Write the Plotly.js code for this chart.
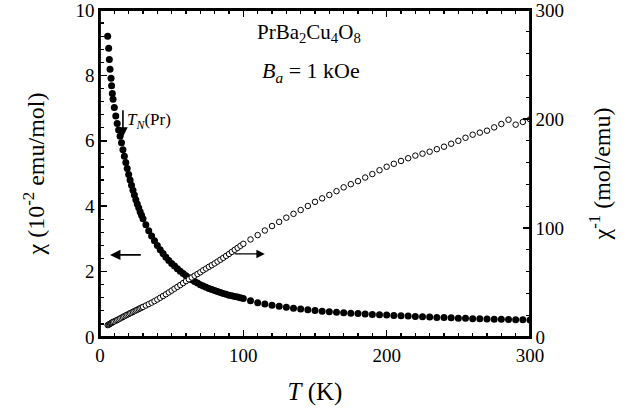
<!DOCTYPE html>
<html>
<head>
<meta charset="utf-8">
<script src="https://cdn.plot.ly/plotly-3.0.1.min.js"></script>
<style>
  html, body { margin: 0; padding: 0; background: #fff; }
  #chart { width: 639px; height: 411px; }
</style>
</head>
<body>
<div id="chart"></div>
<script>
// temperature (K)
const temps = [
  5.35, 6.05, 6.5, 7.0, 7.7, 8.1, 8.6, 9.1,
  10, 11, 12, 13, 14, 15, 16, 17, 18, 19, 20, 21, 22, 23, 24, 25, 26, 27, 28, 29, 30,
  32, 34, 36, 38, 40, 42, 44, 46, 48, 50, 52, 54, 56, 58, 60, 62, 64, 66, 68, 70,
  72, 74, 76, 78, 80, 82, 84, 86, 88, 90, 92, 94, 96, 98,
  100, 105, 110, 115, 120, 125, 130, 135, 140, 145, 150, 155, 160, 165, 170, 175,
  180, 185, 190, 195, 200, 205, 210, 215, 220, 225, 230, 235, 240, 245, 250, 255,
  260, 265, 270, 275, 280, 285, 290, 295, 300
];

// chi (10^-2 emu/mol), left axis
const chi = [
  9.20, 8.83, 8.49, 8.19, 7.91, 7.68, 7.45, 7.27,
  7.02, 6.76, 6.53, 6.33, 6.14, 5.94, 5.73, 5.53, 5.34, 5.15, 4.97, 4.80, 4.64, 4.49, 4.34, 4.20, 4.07, 3.95, 3.83, 3.72, 3.62,
  3.43, 3.25, 3.09, 2.94, 2.80, 2.67, 2.55, 2.44, 2.34, 2.25, 2.17, 2.09, 2.01, 1.94, 1.87, 1.81, 1.75, 1.70, 1.65, 1.60,
  1.56, 1.52, 1.48, 1.45, 1.42, 1.39, 1.36, 1.33, 1.31, 1.28, 1.26, 1.24, 1.22, 1.20,
  1.18, 1.11, 1.05, 1.01, 0.97, 0.94, 0.91, 0.88, 0.86, 0.83, 0.81, 0.79, 0.77, 0.755, 0.74, 0.725,
  0.715, 0.70, 0.69, 0.68, 0.67, 0.66, 0.65, 0.64, 0.63, 0.62, 0.61, 0.60, 0.595, 0.585, 0.575, 0.57,
  0.56, 0.555, 0.55, 0.545, 0.54, 0.535, 0.53, 0.525, 0.52
];

// inverse chi (mol/emu), right axis
const chiInv = [
  10.9, 11.3, 11.7, 12.1, 12.6, 13.0, 13.4, 13.8,
  14.3, 15.0, 15.6, 16.3, 17.0, 17.7, 18.4, 19.1, 19.8, 20.4, 21.1, 21.8, 22.4, 23.1, 23.7, 24.4, 25.0, 25.7, 26.3, 27.0, 27.6,
  28.9, 30.2, 31.5, 32.9, 34.4, 36.0, 37.6, 39.2, 40.9, 42.6, 44.3, 46.0, 47.7, 49.5, 51.3, 53.0, 54.6, 56.2, 57.8, 59.4,
  61.2, 62.8, 64.4, 65.9, 67.5, 69.2, 70.9, 72.6, 74.4, 76.2, 78.1, 80.0, 81.8, 83.7,
  85.5, 89.5, 93.5, 97.7, 101.8, 105.6, 109.5, 113, 116.5, 120.2, 124, 127.2, 130.3, 133.8, 137.3, 140.2,
  143, 146.3, 149.5, 153, 156.2, 158.9, 161.5, 164, 166.4, 168.2, 170, 172.3, 174.6, 177.3, 180, 182.8,
  185.6, 187.5, 189.3, 192.3, 195.4, 199.3, 194.8, 197.3, 199.7
];

const serif = 'Liberation Serif, Times New Roman, serif';

var chiTrace = {
  x: temps,
  y: chi,
  type: 'scatter',
  mode: 'markers',
  marker: { symbol: 'circle', size: 7, color: '#000' },
  hoverinfo: 'skip'
};

var chiInvTrace = {
  x: temps,
  y: chiInv,
  xaxis: 'x2',
  yaxis: 'y2',
  type: 'scatter',
  mode: 'markers',
  marker: { symbol: 'circle', size: 5.5, color: '#fff', line: { color: '#000', width: 1 } },
  hoverinfo: 'skip'
};

var axisBase = {
  showline: true,
  linecolor: '#000',
  linewidth: 1.8,
  ticks: 'inside',
  ticklen: 7,
  tickwidth: 1.5,
  tickcolor: '#000',
  showgrid: false,
  zeroline: false,
  ticklabeloverflow: 'allow',
  tickfont: { family: serif, size: 19, color: '#000' }
};

var minorTicks = function(step) {
  return { dtick: step, ticks: 'inside', ticklen: 4, tickcolor: '#000', tickwidth: 1.2 };
};

var layout = {
  width: 639,
  height: 411,
  margin: { l: 100, r: 109, t: 10, b: 74 },
  paper_bgcolor: '#fff',
  plot_bgcolor: '#fff',
  showlegend: false,
  font: { family: serif, color: '#000' },
  xaxis: Object.assign({}, axisBase, {
    range: [0, 300],
    dtick: 100,
    minor: minorTicks(10),
    title: { text: '<i>T</i> (K)', font: { family: serif, size: 25 }, standoff: 18 }
  }),
  // top axis: ticks only
  xaxis2: Object.assign({}, axisBase, {
    overlaying: 'x',
    side: 'top',
    anchor: 'y2',
    range: [0, 300],
    dtick: 100,
    showticklabels: false,
    minor: minorTicks(10)
  }),
  yaxis: Object.assign({}, axisBase, {
    range: [0, 10],
    dtick: 2,
    minor: minorTicks(0.4),
    title: { text: '\u03c7 (10<sup>-2</sup> emu/mol)', font: { family: serif, size: 24 }, standoff: 24 }
  }),
  yaxis2: Object.assign({}, axisBase, {
    overlaying: 'y',
    side: 'right',
    anchor: 'x2',
    range: [0, 300],
    dtick: 100,
    minor: minorTicks(20),
    title: { text: '\u03c7<sup>-1</sup> (mol/emu)', font: { family: serif, size: 24 }, standoff: 30 }
  }),
  shapes: [
    {
      type: 'rect', xref: 'paper', yref: 'paper', x0: 0, x1: 1, y0: 0, y1: 1,
      line: { color: '#000', width: 1.8 }, layer: 'above'
    }
  ],
  annotations: [
    {
      xref: 'x', yref: 'y', x: 146, y: 9.3,
      text: 'PrBa<sub>2</sub>Cu<sub>4</sub>O<sub>8</sub>',
      showarrow: false, font: { family: serif, size: 21 }
    },
    {
      xref: 'x', yref: 'y', x: 147, y: 8.1,
      text: '<i>B<sub>a</sub></i> = 1 kOe',
      showarrow: false, font: { family: serif, size: 22 }
    },
    {
      xref: 'x', yref: 'y', x: 17.2, y: 6.6, xanchor: 'left',
      text: '<i>T<sub>N</sub></i>(Pr)',
      showarrow: false, font: { family: serif, size: 17 }
    },
    // arrow marking T_N
    {
      xref: 'x', yref: 'y', x: 16, y: 6.12,
      axref: 'x', ayref: 'y', ax: 16, ay: 6.98,
      text: '', showarrow: true, arrowhead: 2, arrowsize: 1.2, arrowwidth: 1.6, arrowcolor: '#000'
    },
    // arrow to left axis
    {
      xref: 'x', yref: 'y', x: 7, y: 2.51,
      axref: 'x', ayref: 'y', ax: 29.5, ay: 2.51,
      text: '', showarrow: true, arrowhead: 2, arrowsize: 1.3, arrowwidth: 1.6, arrowcolor: '#000'
    },
    // arrow to right axis
    {
      xref: 'x', yref: 'y', x: 115, y: 2.54,
      axref: 'x', ayref: 'y', ax: 93, ay: 2.54,
      text: '', showarrow: true, arrowhead: 2, arrowsize: 1.3, arrowwidth: 1.3, arrowcolor: '#000'
    }
  ]
};

Plotly.newPlot('chart', [chiTrace, chiInvTrace], layout, { displayModeBar: false, staticPlot: true });
</script>
</body>
</html>
